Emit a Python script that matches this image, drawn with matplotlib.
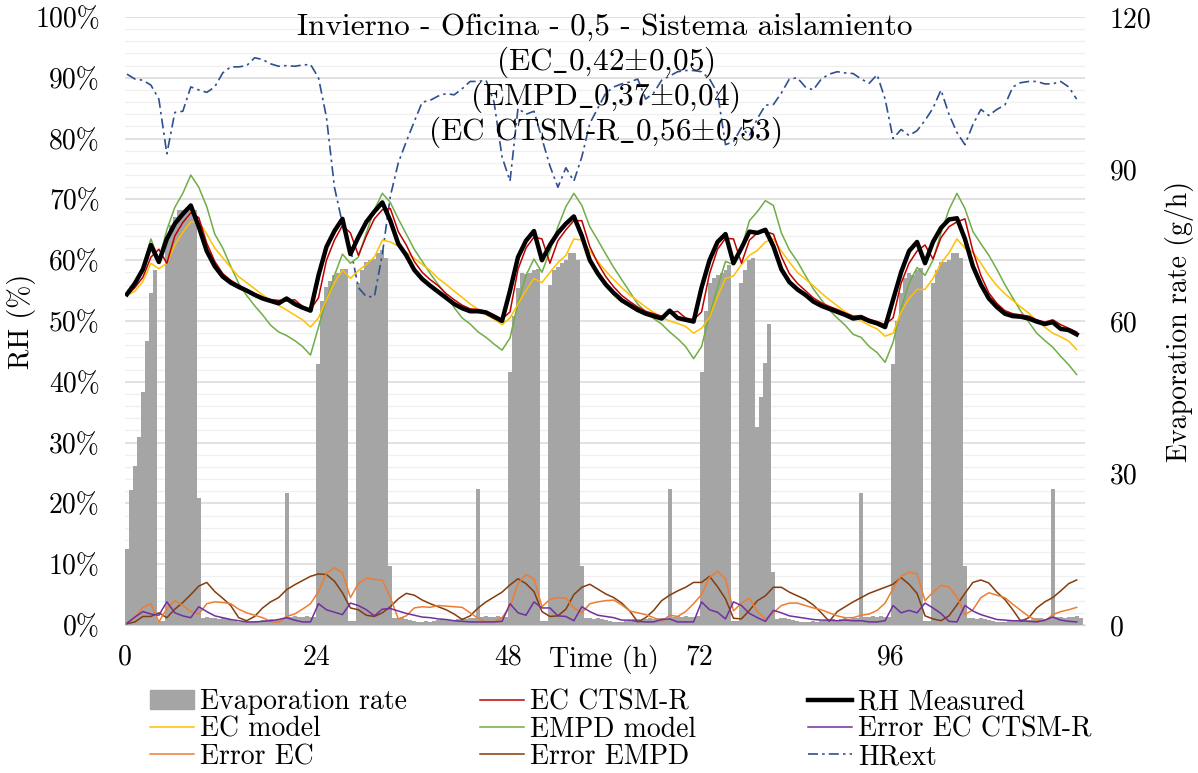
import matplotlib
matplotlib.use("Agg")
import numpy as np
import matplotlib.pyplot as plt
from matplotlib.patches import Patch
from matplotlib.lines import Line2D

plt.rcParams['font.family'] = ['cmr10', 'DejaVu Serif']
plt.rcParams['mathtext.fontset'] = 'cm'
plt.rcParams['axes.unicode_minus'] = False
plt.rcParams['font.size'] = 20

# evaporation rate (g/h), half-hourly, one list per day
evap_day1 = [15, 26.6, 31.4, 37.2, 46, 56, 65.5, 70, 0.8, 0.8,
             76, 79, 80.5, 82, 82, 82, 82, 82, 25,
             1.4, 1.5, 1.3, 1.4, 1.2, 1.4, 1.3, 1.1, 0.8, 0.6, 0.5, 0.6, 0.5, 0.7,
             0.6, 0.9, 1.0, 1.1, 1.0, 1.2, 1.1, 26, 1.6, 1.7, 1.5, 1.6, 1.8, 1.5, 1.6]
evap_day2 = [51.6, 64, 66.8, 67.8, 69, 69.5, 70.3, 70.3, 0.8, 0.8,
             67.4, 70, 71.7, 72, 72.2, 73.4, 74, 72.4, 11.6,
             1.4, 1.3, 1.5, 1.2, 1.0, 0.8, 0.6, 0.5, 0.7, 0.6, 0.8, 1.0, 1.2, 1.1,
             1.0, 0.9, 1.2, 1.3, 1.2, 1.4, 1.3, 26.8, 1.6, 1.8, 1.6, 1.5, 1.7, 1.6, 1.5]
evap_day3 = [50, 61, 66.5, 69.5, 69.3, 69.5, 70, 70.3, 0.8, 0.8,
             67.1, 70, 70.7, 71.5, 72, 73.4, 73.4, 72, 11.6,
             1.3, 1.4, 1.2, 1.3, 1.1, 0.9, 0.7, 0.5, 0.6, 0.5, 0.7, 0.9, 1.1, 1.2,
             1.0, 1.1, 1.3, 1.2, 1.4, 1.3, 1.2, 26.8, 1.5, 1.7, 1.6, 1.8, 1.6, 1.5, 1.7]
evap_day4 = [50, 62, 67.5, 68.5, 69, 69.5, 70, 71, 0.8, 0.8,
             67.5, 70, 72, 72.4, 39, 45, 51.8, 59.5, 10.5,
             1.2, 1.4, 1.3, 1.2, 1.0, 0.8, 0.6, 0.5, 0.6, 0.7, 0.6, 0.8, 1.0, 1.1,
             1.2, 1.0, 1.1, 1.3, 1.2, 1.3, 1.4, 26, 1.6, 1.5, 1.7, 1.6, 1.8, 1.6, 1.5]
evap_day5 = [51.6, 60, 65.5, 68.5, 69.5, 69, 70, 70.5, 0.8, 0.8,
             67.4, 70, 71.7, 71.7, 72, 73.4, 73.4, 72.4, 11.6,
             1.3, 1.4, 1.2, 1.4, 1.1, 0.9, 0.7, 0.6, 0.5, 0.6, 0.7, 0.9, 1.0, 1.2,
             1.1, 1.0, 1.2, 1.3, 1.4, 1.2, 1.3, 26.8, 1.5, 1.6, 1.4, 1.6, 1.5, 1.7, 1.4]

# hourly RH series (%)
rh_measured = [54.4, 56.2, 58.5, 62.5, 59.7, 63.5, 66.0, 67.6, 69.0, 65.5,
               61.5, 59.0, 57.3, 56.3, 55.6, 55.0, 54.3, 53.7, 53.3, 52.9,
               53.7, 52.8, 52.2, 51.7, 57.5, 62.2, 64.8, 66.8, 61.0, 63.8,
               66.3, 68.0, 69.5, 66.5, 62.7, 60.8, 58.4, 56.9, 55.8, 54.8,
               53.8, 52.8, 52.1, 51.6, 51.6, 51.4, 50.7, 50.0, 55.0, 60.5,
               63.2, 64.8, 60.0, 62.5, 64.5, 66.0, 67.2, 64.0, 60.0, 57.8,
               56.0, 54.6, 53.4, 52.6, 51.8, 51.2, 50.8, 50.4, 51.7, 50.5,
               50.2, 49.9, 55.5, 60.0, 63.0, 64.3, 59.5, 62.0, 64.7, 64.5,
               65.0, 62.3, 58.5, 56.4, 55.2, 54.3, 53.2, 52.5, 52.0, 51.5,
               51.0, 50.4, 50.6, 50.0, 49.6, 49.0, 53.5, 58.0, 61.5, 63.0,
               59.5, 63.0, 65.3, 66.7, 66.9, 63.5, 59.0, 56.0, 53.7, 52.3,
               51.2, 50.8, 50.7, 50.4, 49.9, 49.5, 49.8, 48.7, 48.5, 47.8]
ec_ctsm = [54.2, 55.5, 57.2, 60.5, 61.8, 59.5, 64.0, 66.2, 67.8, 67.0,
           62.8, 59.8, 57.8, 56.7, 55.9, 55.2, 54.5, 53.9, 53.5, 53.4,
           53.3, 53.5, 52.4, 51.9, 53.8, 60.0, 63.3, 65.7, 64.5, 60.8,
           64.0, 66.8, 68.3, 68.5, 64.7, 62.5, 59.8, 58.0, 56.8, 55.8,
           54.5, 53.5, 52.6, 52.0, 51.9, 51.6, 51.0, 50.3, 51.5, 58.5,
           62.0, 63.8, 63.5, 59.5, 63.2, 65.0, 66.5, 66.5, 62.2, 59.5,
           57.3, 55.6, 54.2, 53.2, 52.3, 51.6, 51.2, 50.8, 51.3, 51.6,
           50.5, 50.2, 51.5, 57.8, 61.8, 63.6, 63.5, 59.5, 63.3, 64.5,
           64.7, 64.3, 60.6, 57.8, 56.2, 55.0, 53.8, 53.0, 52.4, 51.9,
           51.3, 50.8, 50.9, 50.3, 49.9, 49.4, 50.5, 56.2, 59.5, 61.5,
           62.5, 60.2, 63.7, 65.5, 66.3, 66.8, 61.5, 57.5, 54.6, 52.9,
           51.7, 51.2, 51.0, 50.8, 50.2, 49.8, 50.2, 49.4, 48.8, 48.2]
ec_model = [54.2, 54.9, 56.5, 59.5, 58.6, 59.5, 62.5, 64.6, 66.3, 66.4,
            64.3, 62.0, 60.4, 58.8, 57.3, 56.3, 55.3, 54.3, 53.4, 52.6,
            51.8, 51.0, 50.2, 49.0, 50.5, 53.5, 56.3, 58.4, 57.0, 58.3,
            59.3, 60.5, 63.3, 63.0, 62.3, 61.3, 60.3, 59.3, 58.3, 57.0,
            56.0, 54.9, 53.9, 52.8, 51.9, 51.0, 50.3, 49.4, 50.5, 52.8,
            55.0, 57.0, 56.3, 58.0, 59.6, 60.8, 63.5, 63.3, 61.5, 59.8,
            58.2, 56.8, 55.5, 54.3, 53.3, 52.3, 51.4, 50.6, 50.0, 49.6,
            49.1, 48.0, 48.8, 50.6, 54.0, 57.0, 57.4, 59.3, 60.8, 61.6,
            63.0, 63.5, 61.5, 59.7, 58.0, 56.9, 55.8, 54.6, 53.5, 52.5,
            51.5, 50.8, 50.0, 49.3, 48.7, 47.5, 48.0, 51.5, 53.7, 55.2,
            55.2, 57.0, 59.5, 61.2, 63.5, 62.0, 61.3, 59.5, 57.5, 55.8,
            54.5, 53.4, 52.3, 51.3, 50.0, 49.0, 48.0, 47.4, 46.7, 45.3]
empd_model = [54.4, 56.2, 59.0, 63.5, 60.0, 65.0, 68.7, 71.0, 74.0, 72.0,
              68.8, 64.3, 62.0, 59.0, 56.2, 54.2, 52.5, 51.0, 49.3, 48.2,
              47.6, 46.8, 45.8, 44.4, 49.0, 53.5, 57.5, 61.0, 59.5, 60.5,
              64.5, 68.3, 71.0, 69.5, 66.8, 64.3, 61.8, 59.8, 57.8, 56.0,
              54.3, 52.2, 50.5, 49.5, 48.2, 47.3, 46.2, 45.2, 47.2, 53.0,
              57.5, 60.2, 58.0, 61.5, 65.5, 68.8, 71.0, 69.0, 65.5, 63.3,
              61.0, 58.8, 56.8, 54.8, 52.8, 51.5, 50.4, 49.5, 48.2, 47.1,
              45.8, 43.8, 45.8, 51.0, 55.5, 59.8, 59.3, 62.0, 66.5, 68.0,
              69.8, 69.0, 64.5, 61.7, 59.8, 57.5, 55.3, 53.5, 51.8, 50.5,
              49.3, 47.8, 47.3, 45.8, 44.8, 43.2, 46.5, 52.0, 56.2, 58.8,
              57.5, 60.0, 64.5, 68.3, 71.0, 68.5, 64.7, 62.7, 60.8, 58.5,
              56.0, 53.8, 51.6, 49.8, 48.0, 46.8, 45.7, 44.2, 42.8, 41.2]
err_ec_ctsm = [0.3, 1.3, 2.2, 1.8, 1.6, 3.8, 2.0, 1.5, 1.2, 3.0,
               2.2, 1.5, 1.2, 0.9, 0.7, 0.5, 0.5, 0.6, 0.7, 0.9,
               1.2, 0.8, 0.5, 0.5, 3.5, 2.5, 2.1, 1.7, 3.6, 3.2,
               2.5, 1.5, 2.6, 2.7, 2.3, 1.9, 1.6, 1.3, 1.2, 1.0,
               0.9, 0.7, 0.6, 0.5, 0.5, 0.5, 0.5, 0.6, 3.5, 2.0,
               1.6, 3.8, 2.8, 2.8, 1.5, 1.4, 0.7, 3.0, 2.2, 1.6,
               1.4, 1.2, 0.8, 0.8, 0.6, 0.5, 0.5, 0.9, 1.0, 0.5,
               0.5, 0.5, 3.8, 2.5, 2.1, 1.0, 3.8, 3.2, 1.9, 1.2,
               0.6, 2.4, 2.0, 1.5, 1.3, 1.1, 0.9, 0.8, 0.8, 0.7,
               0.8, 0.7, 0.7, 0.5, 0.5, 0.7, 3.2, 2.0, 2.4, 2.0,
               3.6, 2.8, 1.9, 0.6, 0.5, 3.2, 2.3, 1.7, 1.3, 0.9,
               0.8, 0.7, 0.7, 0.6, 0.5, 0.8, 1.3, 0.8, 0.6, 0.5]
err_ec = [0.3, 1.2, 2.9, 3.5, 0.5, 2.7, 4.0, 3.2, 2.2, 1.8,
          3.5, 3.8, 3.7, 3.5, 2.6, 2.0, 1.6, 1.2, 0.6, 0.4,
          1.4, 1.8, 2.6, 3.5, 5.5, 8.5, 9.4, 8.6, 4.5, 6.8,
          7.7, 7.5, 7.4, 4.5, 1.0, 1.5, 2.8, 3.0, 2.9, 3.2,
          3.1, 3.0, 2.9, 2.0, 1.1, 0.5, 0.5, 1.2, 3.0, 6.8,
          8.3, 7.6, 3.0, 4.2, 4.5, 4.4, 2.8, 2.0, 3.5, 3.8,
          4.0, 4.1, 3.3, 2.3, 2.0, 1.7, 1.2, 0.6, 1.6, 1.4,
          2.2, 3.5, 5.0, 7.8, 8.8, 7.6, 2.3, 3.6, 4.4, 2.2,
          1.0, 2.0, 3.2, 3.6, 3.6, 3.2, 2.8, 2.5, 2.0, 1.5,
          1.2, 1.2, 1.6, 1.8, 2.4, 3.6, 6.0, 8.0, 8.7, 8.4,
          4.0, 5.4, 6.5, 6.3, 4.6, 1.7, 2.5, 4.5, 5.3, 4.9,
          4.5, 3.4, 2.4, 1.4, 0.8, 0.6, 1.7, 2.2, 2.5, 2.9]
err_empd = [0.2, 0.5, 1.4, 1.4, 2.0, 1.2, 2.6, 3.7, 5.0, 6.4,
            7.0, 5.5, 4.4, 3.2, 1.2, 0.7, 1.4, 2.8, 3.8, 4.5,
            5.8, 6.6, 7.3, 8.0, 8.4, 8.3, 7.2, 5.3, 2.8, 2.5,
            1.6, 1.4, 2.0, 3.0, 4.3, 5.2, 4.9, 4.1, 3.5, 3.0,
            2.5, 1.8, 0.9, 1.5, 2.8, 3.8, 4.6, 5.4, 6.6, 7.6,
            6.8, 5.5, 2.2, 1.4, 1.5, 2.6, 5.0, 6.2, 6.7, 5.9,
            5.1, 4.5, 3.6, 2.3, 0.5, 1.2, 2.4, 4.0, 4.9, 5.6,
            6.2, 7.0, 7.0, 8.0, 6.3, 4.3, 1.1, 1.0, 2.4, 4.0,
            4.8, 6.2, 6.2, 5.4, 4.8, 4.2, 3.3, 2.0, 0.6, 2.2,
            3.0, 3.8, 4.5, 5.2, 5.7, 6.2, 6.7, 7.8, 6.7, 5.2,
            1.5, 1.0, 0.7, 1.5, 3.3, 5.2, 7.0, 7.4, 6.9, 5.4,
            4.2, 2.5, 0.6, 1.2, 2.8, 3.8, 4.5, 5.6, 6.8, 7.4]
hr_ext = [90.6, 89.8, 89.6, 88.8, 86.5, 77.5, 84.3, 84.5, 88.5, 88.0,
          87.6, 88.5, 90.8, 91.8, 91.8, 92.0, 93.3, 93.0, 92.3, 91.9,
          92.0, 91.9, 92.1, 92.2, 90.0, 83.5, 72.0, 66.0, 62.0, 55.5,
          54.0, 54.0, 61.0, 70.5, 76.0, 79.5, 82.8, 86.0, 86.3, 87.0,
          87.4, 87.2, 88.2, 89.4, 89.4, 89.6, 86.0, 77.0, 73.0, 85.0,
          84.0, 84.5, 80.0, 75.5, 72.0, 75.2, 73.0, 77.0, 82.5, 85.0,
          87.5, 88.5, 89.0, 89.3, 89.8, 86.5, 87.5, 89.6, 90.3, 91.0,
          91.2, 91.2, 91.0, 89.8, 87.5, 79.0, 79.5, 81.8, 80.5, 83.3,
          85.5, 85.6, 87.5, 89.8, 90.0, 88.5, 88.0, 89.8, 90.6, 91.0,
          90.8, 90.7, 89.8, 89.1, 90.5, 86.5, 80.0, 81.5, 80.5, 81.3,
          83.0, 85.0, 88.0, 84.0, 81.0, 79.0, 82.3, 84.8, 83.8, 84.8,
          85.5, 88.5, 89.2, 89.4, 89.4, 89.0, 89.0, 89.4, 88.5, 86.5]

xtick_values = [0, 24, 48, 72, 96]
# '_' and '±' written as mathtext, cmr10 has no proper glyph for them
title_lines = ['Invierno - Oficina - 0,5 - Sistema aislamiento',
               r'(EC$\_$0,42$\pm$0,05)', r'(EMPD$\_$0,37$\pm$0,04)',
               r'(EC CTSM-R$\_$0,56$\pm$0,53)']

evap = np.array(evap_day1 + evap_day2 + evap_day3 + evap_day4 + evap_day5)
t_evap = np.arange(len(evap)) * 0.5          # half-hour slots, bar left edge
t_hour = np.arange(len(rh_measured)) + 0.25   # hourly samples at slot centre

fig = plt.figure(figsize=(11.98, 7.73), dpi=100)
pos = [0.1043, 0.1915, 0.8014, 0.7865]

# background axes: grid and left ticks
ax = fig.add_axes(pos)
ax.set_xlim(0, 120.3)
ax.set_ylim(0, 100)
ax.set_yticks(np.arange(0, 101, 10))
ax.set_yticklabels([f'{v}%' for v in range(0, 101, 10)])
ax.set_yticks(np.arange(0, 101, 2), minor=True)
ax.grid(True, which='major', axis='y', color='#d9d9d9', lw=1.1)
ax.grid(True, which='minor', axis='y', color='#f0f0f0', lw=1.0)
ax.set_xticks(xtick_values)
ax.set_xticklabels([str(v) for v in xtick_values])
ax.tick_params(axis='both', which='both', length=0)
ax.tick_params(axis='y', pad=18)
ax.tick_params(axis='x', pad=14)
for s in ['top', 'left', 'right']:
    ax.spines[s].set_visible(False)
ax.spines['bottom'].set_color('#d9d9d9')

# bars on secondary axis
ax2 = ax.twinx()
ax2.bar(t_evap, evap, width=0.5, align='edge', color='#a5a5a5', lw=0)
ax2.set_ylim(0, 120)
ax2.set_yticks([0, 30, 60, 90, 120])
ax2.tick_params(axis='y', length=0, pad=18)
for s in ax2.spines.values():
    s.set_visible(False)
ax2.patch.set_visible(False)

# lines on top, same scale as left axis
ax3 = ax.twinx()
ax3.set_ylim(0, 100)
ax3.set_yticks([])
for s in ax3.spines.values():
    s.set_visible(False)
ax3.patch.set_visible(False)

thin = 1.1
hr_dash = (0, (6, 2.5, 1.5, 2.5))
ax3.plot(t_hour, hr_ext, color='#2f4f8f', lw=1.2, ls=hr_dash)
ax3.plot(t_hour, err_empd, color='#843c0c', lw=thin)
ax3.plot(t_hour, err_ec, color='#ed7d31', lw=thin)
ax3.plot(t_hour, err_ec_ctsm, color='#7030a0', lw=thin)
ax3.plot(t_hour, empd_model, color='#70ad47', lw=thin)
ax3.plot(t_hour, ec_model, color='#ffc000', lw=thin)
ax3.plot(t_hour, ec_ctsm, color='#c00000', lw=thin)
ax3.plot(t_hour, rh_measured, color='black', lw=3.2)

for i, line in enumerate(title_lines):
    fig.text(pos[0] + pos[2] / 2, 1 - (28 + 34.7 * i) / 773, line,
             ha='center', va='center', fontsize=22.5)

fig.text(604 / 1198, 1 - 660 / 773, 'Time (h)', ha='center', va='center')
fig.text(22 / 1198, 1 - 321 / 773, 'RH (%)', ha='center', va='center', rotation=90)
fig.text(1180 / 1198, 1 - 321 / 773, 'Evaporation rate (g/h)', ha='center',
         va='center', rotation=90)

# legend, three columns placed like the original
h_evap = Patch(color='#a5a5a5')
cols = [
    [(h_evap, 'Evaporation rate'),
     (Line2D([], [], color='#ffc000', lw=thin), 'EC model'),
     (Line2D([], [], color='#ed7d31', lw=thin), 'Error EC')],
    [(Line2D([], [], color='#c00000', lw=thin), 'EC CTSM-R'),
     (Line2D([], [], color='#70ad47', lw=thin), 'EMPD model'),
     (Line2D([], [], color='#843c0c', lw=thin), 'Error EMPD')],
    [(Line2D([], [], color='black', lw=3.2), 'RH Measured'),
     (Line2D([], [], color='#7030a0', lw=thin), 'Error EC CTSM-R'),
     (Line2D([], [], color='#2f4f8f', lw=1.2, ls=hr_dash), 'HRext')],
]
col_x = [150, 480, 808]
for cx, col in zip(col_x, cols):
    fig.legend([h for h, _ in col], [l for _, l in col], loc='upper left',
               bbox_to_anchor=(cx / 1198, 1 - 689 / 773), frameon=False,
               fontsize=20, handlelength=1.6, handletextpad=0.2,
               labelspacing=0.04, borderpad=0, borderaxespad=0)

fig.savefig('out.png', dpi=100)
